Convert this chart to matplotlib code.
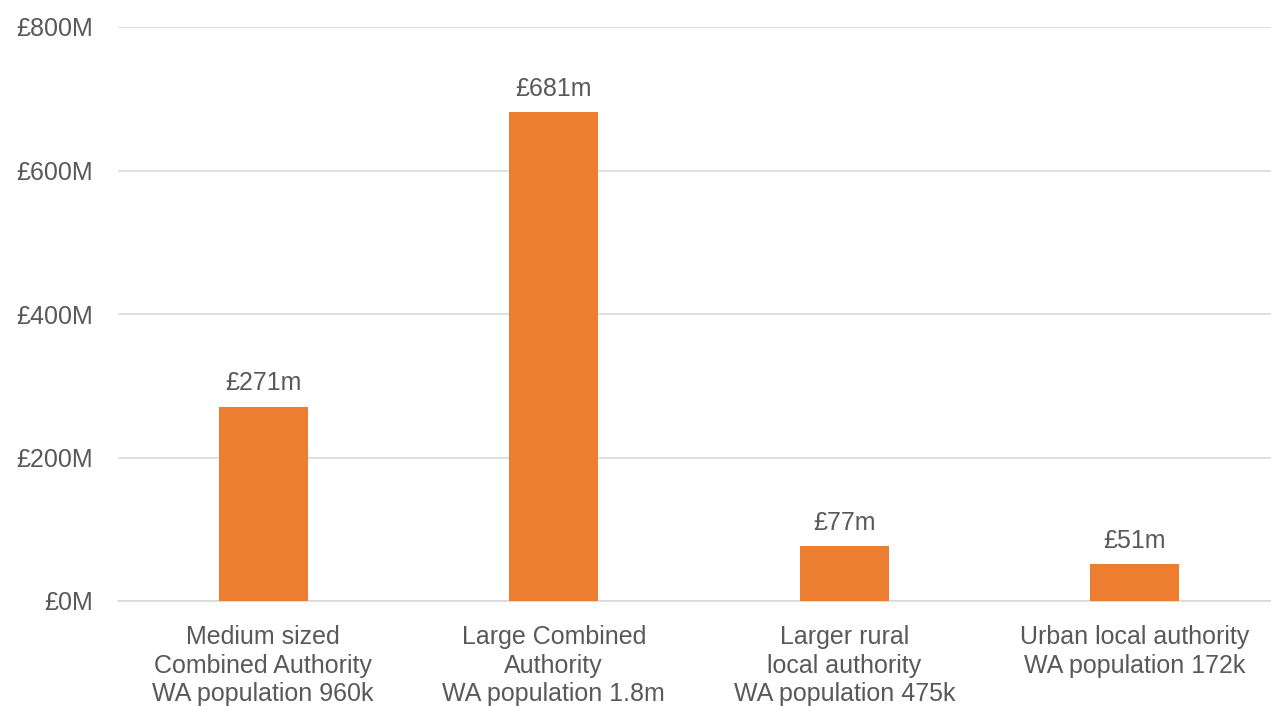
import numpy as np
import matplotlib
matplotlib.use("Agg")
import matplotlib.pyplot as plt

categories = [
    "Medium sized\nCombined Authority\nWA population 960k",
    "Large Combined\nAuthority\nWA population 1.8m",
    "Larger rural\nlocal authority\nWA population 475k",
    "Urban local authority\nWA population 172k",
]
values = [271, 681, 77, 51]          # £ millions
value_labels = ["£271m", "£681m", "£77m", "£51m"]
yticks = [0, 200, 400, 600, 800]
ytick_labels = ["£0M", "£200M", "£400M", "£600M", "£800M"]

bar_color = "#ED7D31"
text_color = "#595959"
grid_color = "#D9D9D9"

plt.rcParams['font.family'] = ['Liberation Sans', 'DejaVu Sans']

fig = plt.figure(figsize=(12.71, 7.06), dpi=100)
ax = fig.add_axes([118 / 1271, 1 - 601 / 706, 1153 / 1271, (601 - 27) / 706])

x = np.arange(len(categories))
bars = ax.bar(x, values, width=0.306, color=bar_color, zorder=3)

for xi, v, lab in zip(x, values, value_labels):
    ax.annotate(lab, (xi, v), xytext=(0, 8), textcoords='offset points',
                ha='center', va='bottom', fontsize=18, color=text_color)

ax.set_xlim(-0.5, -0.5 + 1153 / 290.5)
ax.set_ylim(0, 800)
ax.set_yticks(yticks)
ax.set_yticklabels(ytick_labels)
ax.set_xticks(x)
ax.set_xticklabels(categories, linespacing=1.26)

ax.tick_params(axis='y', length=0, pad=18, labelsize=18, labelcolor=text_color)
ax.tick_params(axis='x', length=0, pad=17, labelsize=18, labelcolor=text_color)

ax.grid(axis='y', color=grid_color, linewidth=1.2, zorder=0)
for s in ['top', 'right', 'left']:
    ax.spines[s].set_visible(False)
ax.spines['bottom'].set_color(grid_color)
ax.spines['bottom'].set_linewidth(1.2)

fig.savefig("out.png", dpi=100)
